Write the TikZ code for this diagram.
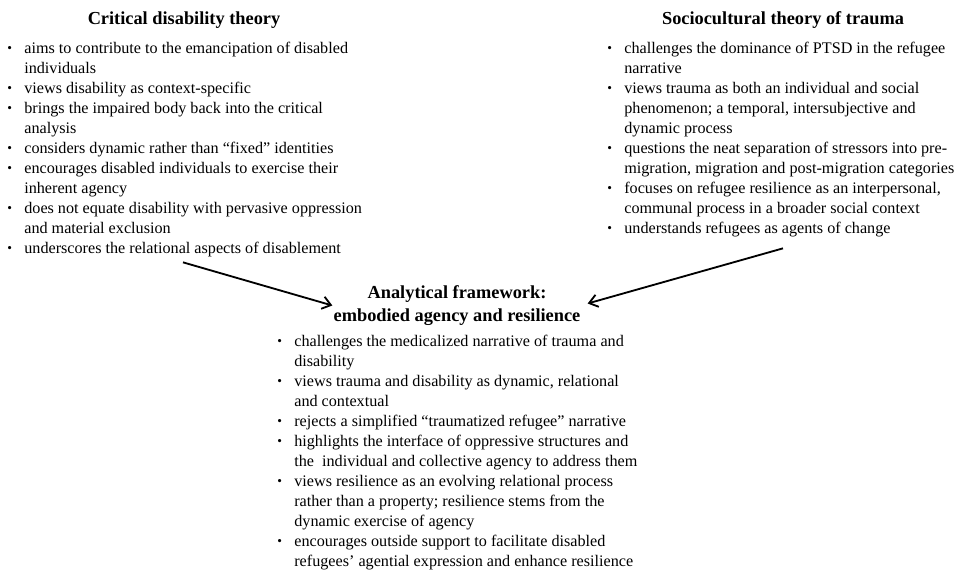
\documentclass[tikz,border=0pt]{standalone}
\usepackage{fontspec}
\setmainfont{Liberation Serif}
\usetikzlibrary{arrows.meta,calc}
\newcommand{\bul}{\raisebox{0.1ex}{\footnotesize\textbullet}}
\newenvironment{pointlist}{\begin{tabular}[t]{@{}p{10.2pt}@{}l@{}}}{\end{tabular}}
\begin{document}
\begin{tikzpicture}[x=0.6pt, y=-0.6pt,
    head/.style={font=\fontsize{11}{13.8}\selectfont\bfseries,
      inner sep=0pt, align=center},
    list/.style={font=\fontsize{9.7}{12}\selectfont,
      inner sep=0pt, anchor=base west},
    arr/.style={line width=1.1pt,
      -{Straight Barb[length=5pt,width=7.5pt]}},
  ]
  \useasboundingbox (0,0) rectangle (956,574);

  \node[head, anchor=base] (cdthead) at (184,24) {Critical disability theory};
  \node[list] (cdt) at (7,53.5) {\begin{pointlist}
    \bul & aims to contribute to the emancipation of disabled\\
         & individuals\\
    \bul & views disability as context-specific\\
    \bul & brings the impaired body back into the critical\\
         & analysis\\
    \bul & considers dynamic rather than “fixed” identities\\
    \bul & encourages disabled individuals to exercise their\\
         & inherent agency\\
    \bul & does not equate disability with pervasive oppression\\
         & and material exclusion\\
    \bul & underscores the relational aspects of disablement
  \end{pointlist}};

  \node[head, anchor=base] (stthead) at (783,24) {Sociocultural theory of trauma};
  \node[list] (stt) at (607,53.5) {\begin{pointlist}
    \bul & challenges the dominance of PTSD in the refugee\\
         & narrative\\
    \bul & views trauma as both an individual and social\\
         & phenomenon; a temporal, intersubjective and\\
         & dynamic process\\
    \bul & questions the neat separation of stressors into pre-\\
         & migration, migration and post-migration categories\\
    \bul & focuses on refugee resilience as an interpersonal,\\
         & communal process in a broader social context\\
    \bul & understands refugees as agents of change
  \end{pointlist}};

  \node[head] (frame) at (457,305.5) {Analytical framework:\\
    embodied agency and resilience};
  \node[list] (ear) at (277,346.5) {\begin{pointlist}
    \bul & challenges the medicalized narrative of trauma and\\
         & disability\\
    \bul & views trauma and disability as dynamic, relational\\
         & and contextual\\
    \bul & rejects a simplified “traumatized refugee” narrative\\
    \bul & highlights the interface of oppressive structures and\\
         & the\ \ individual and collective agency to address them\\
    \bul & views resilience as an evolving relational process\\
         & rather than a property; resilience stems from the\\
         & dynamic exercise of agency\\
    \bul & encourages outside support to facilitate disabled\\
         & refugees’ agential expression and enhance resilience
  \end{pointlist}};

  \draw[arr] ($(cdt.south west)+(176,2.5)$) -- ($(frame.west)+(-1,0)$);
  \draw[arr] ($(stt.south west)+(176,8.5)$) -- ($(frame.east)+(7,-2)$);

\end{tikzpicture}
\end{document}
